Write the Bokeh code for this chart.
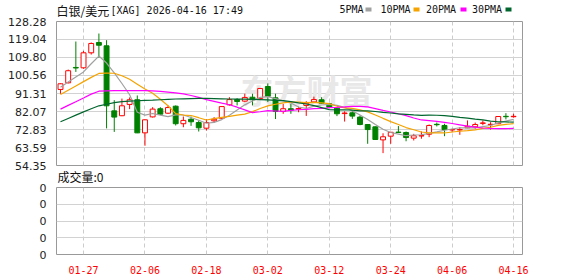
from bokeh.plotting import figure
from bokeh.models import Range1d, FixedTicker, Label, PrintfTickFormatter, ColumnDataSource, Title
from bokeh.layouts import column
from bokeh.embed import file_html
from bokeh.resources import INLINE
from bokeh.core.properties import value
import numpy as np

# ---------------- data ----------------
dates = ["01-22", "01-23", "01-26", "01-27", "01-28", "01-29", "01-30", "02-02", "02-03", "02-04",
         "02-05", "02-06", "02-09", "02-10", "02-11", "02-12", "02-13", "02-16", "02-17", "02-18",
         "02-19", "02-20", "02-23", "02-24", "02-25", "02-26", "02-27", "03-02", "03-03", "03-04",
         "03-05", "03-06", "03-09", "03-10", "03-11", "03-12", "03-13", "03-16", "03-17", "03-18",
         "03-19", "03-20", "03-23", "03-24", "03-25", "03-26", "03-27", "03-30", "03-31", "04-01",
         "04-02", "04-06", "04-07", "04-08", "04-09", "04-10", "04-13", "04-14", "04-15", "04-16"]

opens = [93.4, 96.8, 104.7, 104.5, 112.2, 117.5, 115.8, 82.4, 79.9, 85.7,
         88.1, 71.1, 79.3, 83.5, 81.2, 84.8, 75.8, 78.1, 76.4, 73.5,
         77.3, 78.6, 85.5, 88.2, 87.4, 89.4, 88.7, 94.9, 89.1, 82.1,
         83.5, 83.3, 85.2, 87.0, 88.1, 86.0, 83.8, 81.0, 81.4, 79.2,
         75.4, 74.2, 67.5, 69.4, 71.5, 71.3, 68.4, 69.5, 70.4, 75.5,
         74.9, 72.6, 72.6, 73.7, 74.2, 76.0, 75.3, 75.8, 79.6, 79.4]
highs = [96.5, 103.6, 118.0, 113.2, 117.5, 122.1, 118.7, 87.9, 88.7, 89.3,
         90.3, 78.0, 84.3, 84.3, 85.2, 85.2, 79.5, 79.5, 77.5, 78.1,
         79.2, 84.8, 89.4, 88.9, 91.2, 91.2, 94.0, 96.5, 91.2, 86.0,
         86.0, 84.6, 87.4, 89.7, 89.4, 86.5, 84.3, 82.2, 82.2, 80.0,
         75.6, 74.4, 70.9, 71.6, 74.6, 71.8, 70.6, 71.8, 75.4, 76.4,
         75.8, 73.2, 74.0, 77.5, 76.4, 77.5, 76.6, 79.6, 81.2, 80.9]
lows = [91.2, 96.5, 102.4, 104.0, 111.3, 109.6, 73.4, 71.6, 79.7, 83.3,
        71.0, 64.5, 79.0, 80.4, 80.8, 74.9, 74.0, 74.7, 71.8, 72.3,
        76.3, 78.3, 85.1, 85.2, 86.9, 85.2, 88.0, 86.9, 78.2, 80.9,
        80.9, 81.7, 79.8, 86.8, 86.0, 84.0, 79.7, 76.9, 78.3, 75.0,
        65.5, 67.5, 60.7, 65.5, 71.1, 66.8, 67.2, 68.1, 68.9, 74.4,
        69.4, 71.4, 70.1, 73.5, 73.2, 75.0, 72.8, 75.6, 78.0, 78.9]
closes = [96.3, 103.0, 104.4, 112.2, 117.0, 116.1, 85.0, 79.2, 85.0, 88.1,
          71.1, 77.8, 83.3, 80.7, 84.1, 75.8, 77.5, 76.8, 73.7, 76.4,
          78.1, 84.6, 88.2, 87.2, 89.3, 88.1, 93.9, 89.9, 82.1, 83.5,
          82.7, 83.6, 86.3, 88.2, 86.3, 84.3, 80.9, 81.3, 79.7, 75.4,
          72.8, 67.7, 69.1, 71.4, 71.3, 68.7, 69.6, 69.7, 74.9, 75.3,
          72.8, 72.8, 72.8, 74.5, 75.4, 76.2, 75.5, 79.5, 79.4, 79.6]
volumes = [0] * 60

ma5_lead = [94.5, 97.2, 99.8, 102.4]
ma10_lead = [90.8, 93.0, 95.2, 97.4, 99.6, 101.6, 101.8, 101.7, 100.4]
ma20_lead = [83.3, 85.2, 87.1, 89.0, 91.0, 92.5, 92.7, 92.8, 92.8, 92.8,
             92.8, 92.8, 92.7, 92.4, 92.0, 91.6, 91.1, 90.3, 89.3]
ma30_lead = [76.8, 78.5, 80.2, 81.9, 83.5, 85.0, 85.8, 86.6, 87.1, 87.4,
             87.6, 87.8, 87.9, 88.1, 88.3, 88.5, 88.6, 88.7, 88.8, 88.8,
             88.7, 88.6, 88.5, 88.4, 88.4, 88.3, 88.2, 88.0, 87.8]

y_labels = ["54.35", "63.59", "72.83", "82.07", "91.31", "100.56", "109.80", "119.04", "128.28"]
vol_labels = ["0", "0", "0", "0", "0"]
ma_names = ["5PMA", "10PMA", "20PMA", "30PMA"]
title_cn = "白银/美元"
title_rest = "[XAG] 2026-04-16 17:49"
vol_title = "成交量:0"
watermark = "东方财富"

# ---------------- styling / layout ----------------
UP = "#ff0000"
DOWN = "#008000"
MA_COLORS = ["#a0a0a0", "#f5a300", "#ff00ff", "#00662e"]
W = 578
FL, FR = 56, 522           # plot area left / right (page px)
HDR_H = 20                 # header strip (title + legend)
MAIN_START = 17            # main panel canvas overlaps the header slightly (transparent border)
MAIN_TOP, MAIN_BOT = 21, 165
MAIN_END = 172
VOL_START = 162            # volume canvas overlaps the main panel slightly (transparent border)
VT, VB = 187, 255
PAGE_H = 276

n = len(closes)
idx = list(range(n))
X0, X1 = -0.52, n + 0.16
YMIN, YMAX = float(y_labels[0]), float(y_labels[-1])


def moving_average(lead, win):
    out = list(lead)
    for i in range(len(lead), n):
        out.append(float(np.mean(closes[i - win + 1:i + 1])))
    return out


mas = [moving_average(ma5_lead, 5), moving_average(ma10_lead, 10),
       moving_average(ma20_lead, 20), moving_average(ma30_lead, 30)]

up = [c >= o for o, c in zip(opens, closes)]
src = ColumnDataSource(dict(
    x=idx, o=opens, h=highs, l=lows, c=closes,
    top=[max(o, c) for o, c in zip(opens, closes)],
    bot=[min(o, c) for o, c in zip(opens, closes)],
    col=[UP if u else DOWN for u in up],
    fill=["#ffffff" if u else DOWN for u in up],
    vol=volumes,
))

tick_idx = list(range(3, n, 8))

# ---------------- header strip: title + legend (data coords = page pixels) ----------------
hdr = figure(width=W, height=HDR_H, x_range=Range1d(FL, FR), y_range=Range1d(HDR_H, 0),
             output_backend="svg", toolbar_location=None,
             x_axis_location=None, y_axis_location=None,
             min_border_left=FL, min_border_right=W - FR, min_border_top=0, min_border_bottom=0)
hdr.outline_line_color = None
hdr.grid.visible = False
hdr.background_fill_color = "#ffffff"
hdr.border_fill_color = "#ffffff"
hdr.text(x=[56], y=[10], text=[title_cn], text_font=value("Noto Sans CJK SC"),
         text_font_size="12px", text_color="#111111", text_baseline="middle")
hdr.text(x=[110], y=[10], text=[title_rest], text_font=value("DejaVu Sans Mono"),
         text_font_size="10px", text_color="#111111", text_baseline="middle")
leg_text_px = [339, 380, 425.5, 471.5]
leg_sw_px = [368, 416, 463, 508]
hdr.text(x=leg_text_px, y=[8.5] * 4, text=ma_names, text_font=value("DejaVu Sans Mono"),
         text_font_size="10px", text_color="#111111", text_baseline="middle")
hdr.rect(x=leg_sw_px, y=[9] * 4, width=6, height=4, fill_color=MA_COLORS, line_color=None)

# ---------------- main price panel ----------------
p = figure(width=W, height=MAIN_END - MAIN_START, x_range=Range1d(X0, X1), y_range=Range1d(YMIN, YMAX),
           output_backend="svg", toolbar_location=None, x_axis_location=None,
           min_border_left=FL, min_border_right=W - FR, min_border_top=MAIN_TOP - MAIN_START,
           min_border_bottom=MAIN_END - MAIN_BOT, margin=(MAIN_START - HDR_H, 0, 0, 0))
p.background_fill_color = "#ffffff"
p.border_fill_color = None
p.outline_line_color = "#999999"
p.outline_line_width = 1

p.yaxis.ticker = FixedTicker(ticks=[float(s) for s in y_labels])
p.yaxis.formatter = PrintfTickFormatter(format="%.2f")
p.yaxis.axis_line_color = None
p.yaxis.major_tick_line_color = None
p.yaxis.minor_tick_line_color = None
p.yaxis.major_label_standoff = 4
p.yaxis.major_label_text_font = "DejaVu Sans"
p.yaxis.major_label_text_font_size = "11px"
p.yaxis.major_label_text_color = "#222222"

p.ygrid.ticker = FixedTicker(ticks=[float(s) for s in y_labels])
p.ygrid.grid_line_color = "#d2d2d2"
p.xgrid.ticker = FixedTicker(ticks=tick_idx)
p.xgrid.grid_line_color = "#cccccc"
p.xgrid.grid_line_dash = "4 3"

wm_y = YMAX - (89 - MAIN_TOP) / (MAIN_BOT - MAIN_TOP) * (YMAX - YMIN)
wm_x = X0 + (240 - FL) / (FR - FL) * (X1 - X0)
p.add_layout(Label(x=wm_x, y=wm_y, text=watermark, text_font="Noto Sans CJK SC",
                   text_font_size="33px", text_font_style="bold", text_color="#e8e8e8",
                   text_baseline="middle", level="underlay"))

p.segment(x0="x", y0="h", x1="x", y1="l", color="col", line_width=1, source=src)
p.vbar(x="x", width=0.64, top="top", bottom="bot", fill_color="fill", line_color="col",
       line_width=1, source=src)

for vals, colr in zip(mas, MA_COLORS):
    p.line(idx, vals, line_color=colr, line_width=1.2)

# ---------------- volume panel ----------------
v = figure(width=W, height=PAGE_H - VOL_START, x_range=p.x_range, y_range=Range1d(0, len(vol_labels) - 1),
           output_backend="svg", toolbar_location=None,
           min_border_left=FL, min_border_right=W - FR, min_border_top=VT - VOL_START,
           min_border_bottom=PAGE_H - VB, margin=(VOL_START - MAIN_END, 0, 0, 0))
v.background_fill_color = "#ffffff"
v.border_fill_color = None
v.outline_line_color = "#999999"
v.add_layout(Title(text=vol_title, align="left", offset=1, standoff=6,
                   text_font="Noto Sans CJK SC", text_font_size="12px",
                   text_font_style="normal", text_color="#111111"), "above")

v.yaxis.ticker = FixedTicker(ticks=list(range(len(vol_labels))))
v.yaxis.major_label_overrides = {i: s for i, s in enumerate(vol_labels)}
v.yaxis.axis_line_color = None
v.yaxis.major_tick_line_color = None
v.yaxis.minor_tick_line_color = None
v.yaxis.major_label_standoff = 4
v.yaxis.major_label_text_font = "DejaVu Sans"
v.yaxis.major_label_text_font_size = "11px"
v.yaxis.major_label_text_color = "#222222"

v.xaxis.ticker = FixedTicker(ticks=tick_idx)
v.xaxis.major_label_overrides = {i: dates[i] for i in tick_idx}
v.xaxis.axis_line_color = None
v.xaxis.major_tick_line_color = None
v.xaxis.minor_tick_line_color = None
v.xaxis.major_label_standoff = 5
v.xaxis.major_label_text_font = "DejaVu Sans Mono"
v.xaxis.major_label_text_font_size = "10px"
v.xaxis.major_label_text_color = "#ff0000"

v.ygrid.ticker = FixedTicker(ticks=list(range(len(vol_labels))))
v.ygrid.grid_line_color = "#d2d2d2"
v.xgrid.ticker = FixedTicker(ticks=tick_idx)
v.xgrid.grid_line_color = "#cccccc"
v.xgrid.grid_line_dash = "4 3"

v.vbar(x="x", width=0.64, top="vol", bottom=0, fill_color="#999999", line_color=None, source=src)

layout = column(hdr, p, v, spacing=0)
open("out.html", "w").write(file_html(layout, INLINE))
